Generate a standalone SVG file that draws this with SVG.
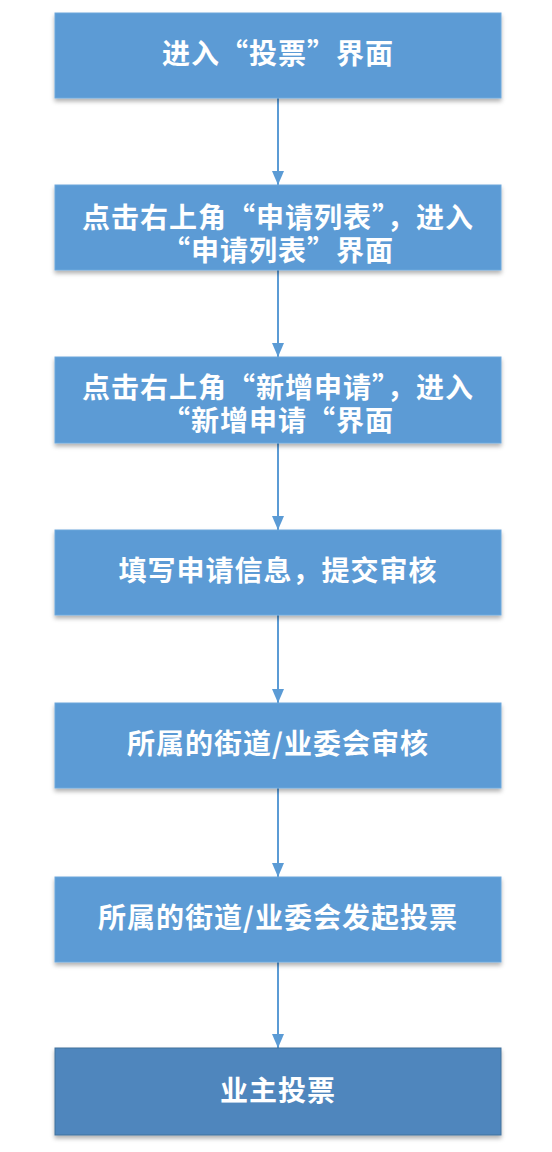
<svg xmlns="http://www.w3.org/2000/svg" width="552" height="1152" viewBox="0 0 552 1152">
<defs>
<filter id="sh" x="-5%" y="-10%" width="110%" height="130%">
<feDropShadow dx="0" dy="3" stdDeviation="2" flood-color="#000" flood-opacity="0.3"/>
</filter>
<marker id="ah" markerWidth="14" markerHeight="12" refX="14" refY="6" orient="auto" markerUnits="userSpaceOnUse" viewBox="0 0 14 12">
<path d="M0,0 L14,6 L0,12 Z" fill="#5B9BD5"/>
</marker>
</defs>
<style>
.box{fill:#5B9BD5;stroke:#6FA8DC;stroke-width:1;filter:url(#sh)}
.box2{fill:#4F86BD;stroke:#41719C;stroke-width:1;filter:url(#sh)}
.t{font-family:"Noto Sans CJK SC","Noto Sans",sans-serif;font-weight:bold;font-size:28px;fill:#fff;text-anchor:middle;letter-spacing:1px}
.c{stroke:#5B9BD5;stroke-width:2;fill:none;marker-end:url(#ah)}
</style>
<rect width="552" height="1152" fill="#fff"/>
<g id="connectors">
<line class="c" x1="278" y1="98" x2="278" y2="185"/>
<line class="c" x1="278" y1="270" x2="278" y2="357"/>
<line class="c" x1="278" y1="443" x2="278" y2="530"/>
<line class="c" x1="278" y1="615" x2="278" y2="703"/>
<line class="c" x1="278" y1="788" x2="278" y2="877"/>
<line class="c" x1="278" y1="962" x2="278" y2="1048"/>
</g>
<g id="n1"><rect class="box" x="55" y="13" width="446" height="85"/><text class="t" x="278" y="64">进入“投票”界面</text></g>
<g id="n2"><rect class="box" x="55" y="185" width="446" height="85"/><text class="t" x="278" y="228">点击右上角“申请列表”，进入</text><text class="t" x="278" y="261">“申请列表”界面</text></g>
<g id="n3"><rect class="box" x="55" y="357" width="446" height="86"/><text class="t" x="278" y="398">点击右上角“新增申请”，进入</text><text class="t" x="278" y="431">“新增申请“界面</text></g>
<g id="n4"><rect class="box" x="55" y="530" width="446" height="85"/><text class="t" x="278" y="581">填写申请信息，提交审核</text></g>
<g id="n5"><rect class="box" x="55" y="703" width="446" height="85"/><text class="t" x="278" y="754">所属的街道/业委会审核</text></g>
<g id="n6"><rect class="box" x="55" y="877" width="446" height="85"/><text class="t" x="278" y="928">所属的街道/业委会发起投票</text></g>
<g id="n7"><rect class="box2" x="55" y="1048" width="446" height="87"/><text class="t" x="278" y="1101">业主投票</text></g>
</svg>
